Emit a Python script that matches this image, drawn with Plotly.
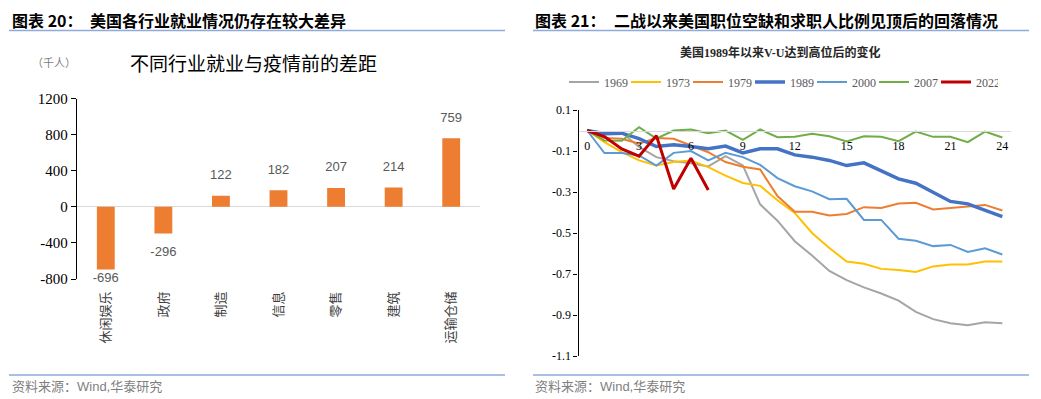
import plotly.graph_objects as go

# ---------------- data ----------------
industries = ["休闲娱乐", "政府", "制造", "信息", "零售", "建筑", "运输仓储"]
diff_vals = [-696, -296, 122, 182, 207, 214, 759]
left_ticks = [-800, -400, 0, 400, 800, 1200]
left_ticktext = ["-800", "-400", "0", "400", "800", "1200"]

months = list(range(25))
s1969 = [0, -0.01, -0.01, -0.08, -0.13, -0.15, -0.16, -0.175, -0.125, -0.17, -0.36, -0.44, -0.54,
         -0.61, -0.685, -0.73, -0.765, -0.795, -0.83, -0.885, -0.92, -0.94, -0.95, -0.935, -0.94]
s1973 = [0, -0.057, -0.106, -0.146, -0.171, -0.154, -0.146, -0.179, -0.22, -0.256, -0.27, -0.34, -0.402,
         -0.5, -0.573, -0.639, -0.65, -0.675, -0.68, -0.69, -0.663, -0.654, -0.654, -0.639, -0.639]
s1979 = [0, -0.037, -0.04, -0.064, -0.037, -0.04, -0.073, -0.106, -0.154, -0.177, -0.19, -0.32, -0.396,
         -0.396, -0.415, -0.407, -0.374, -0.378, -0.356, -0.353, -0.385, -0.378, -0.371, -0.363, -0.39]
s1989 = [0, -0.016, -0.013, -0.04, -0.078, -0.07, -0.078, -0.089, -0.076, -0.109, -0.089, -0.089, -0.119,
         -0.13, -0.146, -0.171, -0.158, -0.195, -0.236, -0.257, -0.3, -0.346, -0.358, -0.387, -0.42]
s2000 = [0, -0.11, -0.11, -0.122, -0.171, -0.109, -0.1, -0.146, -0.109, -0.13, -0.168, -0.232, -0.272,
         -0.297, -0.335, -0.333, -0.436, -0.436, -0.528, -0.538, -0.564, -0.558, -0.592, -0.575, -0.605]
s2007 = [0, -0.049, -0.05, 0.016, -0.04, 0, 0.005, -0.013, 0, -0.046, 0.005, -0.033, -0.031,
         -0.016, -0.028, -0.053, -0.028, -0.031, -0.052, -0.005, -0.031, -0.031, -0.057, -0.005, -0.034]
s2022 = [0, -0.03, -0.09, -0.125, -0.025, -0.285, -0.135, -0.29]
right_tickvals = [0.1, -0.1, -0.3, -0.5, -0.7, -0.9, -1.1]
right_ticktext = ["0.1", "-0.1", "-0.3", "-0.5", "-0.7", "-0.9", "-1.1"]
x_tickvals = [0, 3, 6, 9, 12, 15, 18, 21, 24]

series = [
    ("1969", s1969, "#A5A5A5", 2),
    ("1973", s1973, "#FFC000", 2),
    ("1979", s1979, "#ED7D31", 2),
    ("1989", s1989, "#4472C4", 3.5),
    ("2000", s2000, "#5B9BD5", 2),
    ("2007", s2007, "#70AD47", 2),
    ("2022", s2022, "#C00000", 3),
]

W, H = 1041, 399
def px(x):
    return x / W
def py(y):
    return 1 - y / H

SERIF = "Liberation Serif, Noto Sans CJK SC, serif"
CJK = "Noto Sans CJK SC, sans-serif"
SANS = "Liberation Sans, Noto Sans CJK SC, sans-serif"

fig = go.Figure()

# ---------------- left: bar chart ----------------
fig.add_trace(go.Bar(
    x=industries, y=diff_vals, marker=dict(color="#ED7D31", line=dict(width=0)),
    xaxis="x", yaxis="y", showlegend=False, hoverinfo="x+y",
))
# data labels (offset from bar ends, kept inside the axis range)
unit_per_px = 2000 / 180.5
lab_y = []
for v in diff_vals:
    if v >= 0:
        lab_y.append(v + 20 * unit_per_px)
    else:
        lab_y.append(max(v - 19 * unit_per_px, -800))
fig.add_trace(go.Scatter(
    x=industries, y=lab_y, mode="text", text=[str(v) for v in diff_vals],
    textfont=dict(family=SANS, size=13, color="#595959"),
    xaxis="x", yaxis="y", showlegend=False, hoverinfo="skip", cliponaxis=False,
))

# ---------------- right: line chart ----------------
for name, vals, col, w in series:
    fig.add_trace(go.Scatter(
        x=months[:len(vals)], y=vals, mode="lines", name=name,
        line=dict(color=col, width=w), xaxis="x2", yaxis="y2",
    ))

y_zero_paper = py(130.5)

fig.update_layout(
    width=W, height=H,
    margin=dict(l=0, r=0, t=0, b=0, autoexpand=False),
    paper_bgcolor="white", plot_bgcolor="white",
    bargap=0.69,
    xaxis=dict(
        domain=[px(77), px(480)], anchor="y", type="category", automargin=False,
        showline=False, ticks="", showgrid=False, zeroline=False,
        tickangle=-90, ticklabelstandoff=9,
        tickfont=dict(family=CJK, size=13, color="#404040"),
    ),
    yaxis=dict(
        domain=[py(279), py(98.5)], anchor="x", range=[-800, 1200], automargin=False,
        tickvals=left_ticks, ticktext=left_ticktext, showgrid=False,
        showline=True, linecolor="black", linewidth=1.3,
        ticks="outside", ticklen=5, tickcolor="black",
        zeroline=True, zerolinecolor="#D9D9D9", zerolinewidth=1.3,
        tickfont=dict(family=SERIF, size=15, color="black"),
    ),
    xaxis2=dict(
        domain=[px(578.5), px(1011)], anchor="free", position=y_zero_paper, automargin=False,
        range=[-0.5, 24.5], tickvals=x_tickvals, showgrid=False, zeroline=False,
        showline=True, linecolor="#D9D9D9", linewidth=1.2, ticks="",
        ticklabelstandoff=4,
        tickfont=dict(family=SERIF, size=12, color="black"),
    ),
    yaxis2=dict(
        domain=[py(356), py(110)], anchor="x2", range=[-1.1, 0.1], automargin=False,
        tickvals=right_tickvals, ticktext=right_ticktext, showgrid=False, zeroline=False,
        showline=True, linecolor="black", linewidth=1.3,
        ticks="outside", ticklen=4, tickcolor="black",
        tickfont=dict(family=SERIF, size=12, color="black"),
    ),
    legend=dict(
        orientation="h", x=px(781), xanchor="center", y=py(82), yanchor="middle",
        font=dict(family=SERIF, size=12, color="#595959"),
        bgcolor="rgba(0,0,0,0)", itemwidth=30, entrywidth=17, tracegroupgap=0,
    ),
    showlegend=True,
)

annotations = [
    dict(text="<b>图表 20：</b>", x=px(10), y=py(20), xanchor="left", yanchor="middle",
         font=dict(family=CJK, size=16, color="black")),
    dict(text="<b>美国各行业就业情况仍存在较大差异</b>", x=px(88), y=py(20), xanchor="left", yanchor="middle",
         font=dict(family=CJK, size=16, color="black")),
    dict(text="<b>图表 21：</b>", x=px(533), y=py(20), xanchor="left", yanchor="middle",
         font=dict(family=CJK, size=16, color="black")),
    dict(text="<b>二战以来美国职位空缺和求职人比例见顶后的回落情况</b>", x=px(612), y=py(20), xanchor="left",
         yanchor="middle", font=dict(family=CJK, size=16, color="black")),
    dict(text="不同行业就业与疫情前的差距", x=px(128), y=py(62), xanchor="left", yanchor="middle",
         font=dict(family=CJK, size=19, color="black")),
    dict(text="（千人）", x=px(30), y=py(62), xanchor="left", yanchor="middle",
         font=dict(family=CJK, size=11, color="#7F7F7F")),
    dict(text="<b>美国1989年以来V-U达到高位后的变化</b>", x=px(780), y=py(53), xanchor="center",
         yanchor="middle", font=dict(family=SERIF, size=12, color="#262626")),
    dict(text="资料来源：Wind,华泰研究", x=px(10), y=py(386), xanchor="left", yanchor="middle",
         font=dict(family=SANS, size=13, color="#7F7F7F")),
    dict(text="资料来源：Wind,华泰研究", x=px(533), y=py(386), xanchor="left", yanchor="middle",
         font=dict(family=SANS, size=13, color="#7F7F7F")),
]
for a in annotations:
    a.update(xref="paper", yref="paper", showarrow=False)
fig.update_layout(annotations=annotations)

line_col = "#8FAADC"
shapes = [
    dict(type="line", x0=px(9), x1=px(505), y0=py(30.5), y1=py(30.5), line=dict(color=line_col, width=1.5)),
    dict(type="line", x0=px(533), x1=px(1029), y0=py(30.5), y1=py(30.5), line=dict(color=line_col, width=1.5)),
    dict(type="line", x0=px(9), x1=px(505), y0=py(375), y1=py(375), line=dict(color=line_col, width=1.5)),
    dict(type="line", x0=px(533), x1=px(1029), y0=py(375), y1=py(375), line=dict(color=line_col, width=1.5)),
]
for s in shapes:
    s.update(xref="paper", yref="paper")
fig.update_layout(shapes=shapes)

fig.write_html(
    "out.html",
    config={"displayModeBar": False},
    post_script="document.body.style.margin='0';document.body.style.overflow='hidden';",
)
